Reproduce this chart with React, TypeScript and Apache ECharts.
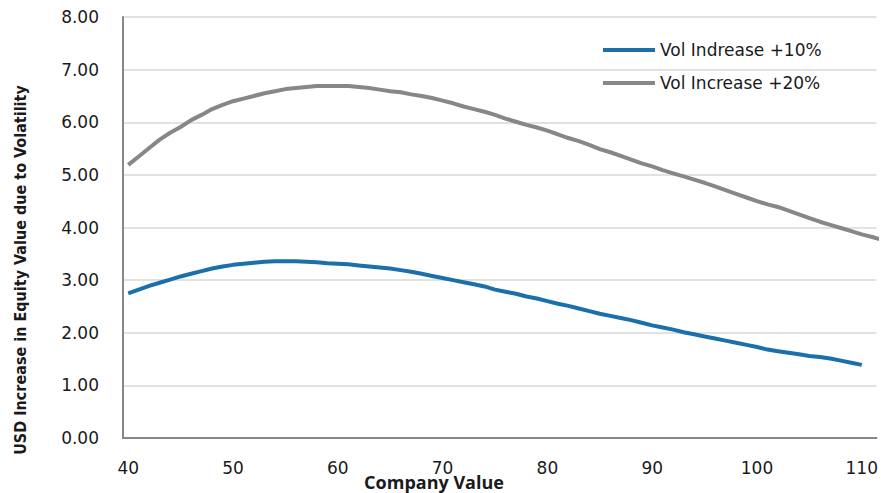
import React, { useEffect, useRef } from "react";
import * as echarts from "echarts";

// Company value (x) for each observation
const companyValues: number[] = [
  40, 41, 42, 43, 44, 45, 46, 47, 48, 49,
  50, 51, 52, 53, 54, 55, 56, 57, 58, 59,
  60, 61, 62, 63, 64, 65, 66, 67, 68, 69,
  70, 71, 72, 73, 74, 75, 76, 77, 78, 79,
  80, 81, 82, 83, 84, 85, 86, 87, 88, 89,
  90, 91, 92, 93, 94, 95, 96, 97, 98, 99,
  100, 101, 102, 103, 104, 105, 106, 107, 108, 109,
  110, 111, 112,
];

// Equity value increase for +10% volatility (ends at 110)
const volPlus10: number[] = [
  2.75, 2.82, 2.89, 2.95, 3.01, 3.07, 3.12, 3.17, 3.22, 3.26,
  3.29, 3.31, 3.33, 3.35, 3.36, 3.36, 3.36, 3.35, 3.34, 3.32,
  3.31, 3.3, 3.28, 3.26, 3.24, 3.22, 3.19, 3.16, 3.12, 3.08,
  3.04, 3.0, 2.96, 2.92, 2.88, 2.82, 2.78, 2.74, 2.69, 2.65,
  2.6, 2.55, 2.51, 2.46, 2.41, 2.36, 2.32, 2.28, 2.24, 2.19,
  2.14, 2.1, 2.06, 2.01, 1.97, 1.93, 1.89, 1.85, 1.81, 1.77,
  1.73, 1.68, 1.65, 1.62, 1.59, 1.56, 1.54, 1.51, 1.47, 1.43,
  1.39,
];

// Equity value increase for +20% volatility
const volPlus20: number[] = [
  5.19, 5.35, 5.51, 5.67, 5.8, 5.91, 6.04, 6.14, 6.25, 6.33,
  6.4, 6.45, 6.5, 6.55, 6.59, 6.63, 6.65, 6.67, 6.69, 6.69,
  6.69, 6.69, 6.67, 6.65, 6.62, 6.59, 6.57, 6.53, 6.5, 6.46,
  6.41, 6.36, 6.3, 6.25, 6.2, 6.14, 6.07, 6.01, 5.95, 5.9,
  5.84, 5.77, 5.7, 5.64, 5.57, 5.49, 5.43, 5.36, 5.29, 5.22,
  5.16, 5.09, 5.03, 4.97, 4.91, 4.85, 4.78, 4.71, 4.64, 4.57,
  4.5, 4.44, 4.39, 4.32, 4.25, 4.18, 4.11, 4.05, 3.99, 3.93,
  3.87, 3.82, 3.76,
];

const xTickLabels: number[] = [40, 50, 60, 70, 80, 90, 100, 110];
const seriesNames: string[] = ["Vol Indrease +10%", "Vol Increase +20%"];

const BLUE = "#1b6fab";
const GREY = "#878787";
const TEXT = "#1a1a1a";
const TICK_FONT = "'DejaVu Sans', Verdana, sans-serif";

const pairs = (xs: number[], ys: number[]) => ys.map((y, i) => [xs[i], y]);

export default function App() {
  const ref = useRef<HTMLDivElement>(null);

  useEffect(() => {
    if (!ref.current) return;
    const chart = echarts.init(ref.current, undefined, { renderer: "svg" });
    chart.setOption({
      animation: false,
      backgroundColor: "#ffffff",
      grid: { left: 123, right: 0, top: 17, bottom: 55, containLabel: false },
      xAxis: {
        type: "value",
        min: 39.5,
        max: 111.4,
        axisLine: { show: true, onZero: false, lineStyle: { color: GREY, width: 2 } },
        axisTick: { show: false },
        splitLine: { show: false },
        axisLabel: {
          customValues: xTickLabels,
          margin: 21,
          color: TEXT,
          fontSize: 17,
          fontFamily: TICK_FONT,
        },
      },
      yAxis: {
        type: "value",
        min: 0,
        max: 8,
        interval: 1,
        axisLine: { show: true, lineStyle: { color: GREY, width: 2 } },
        axisTick: { show: false },
        splitLine: { show: true, lineStyle: { color: "#d9d9d9", width: 1.5 } },
        axisLabel: {
          formatter: (v: number) => v.toFixed(2),
          margin: 24,
          color: TEXT,
          fontSize: 17,
          fontFamily: TICK_FONT,
        },
      },
      legend: {
        orient: "vertical",
        left: 603,
        top: 40,
        padding: [0, 0, 0, 0],
        itemWidth: 52,
        itemHeight: 4,
        itemGap: 13,
        icon: "rect",
        textStyle: { color: TEXT, fontSize: 17, fontFamily: TICK_FONT, lineHeight: 20 },
        data: seriesNames,
      },
      series: [
        {
          name: seriesNames[0],
          type: "line",
          data: pairs(companyValues, volPlus10),
          showSymbol: false,
          smooth: false,
          lineStyle: { color: BLUE, width: 4 },
          itemStyle: { color: BLUE },
          z: 3,
        },
        {
          name: seriesNames[1],
          type: "line",
          data: pairs(companyValues, volPlus20),
          showSymbol: false,
          smooth: false,
          lineStyle: { color: GREY, width: 4 },
          itemStyle: { color: GREY },
          z: 2,
        },
      ],
      graphic: [
        {
          type: "text",
          x: 434,
          y: 482,
          style: {
            text: "Company Value",
            fill: TEXT,
            font: "bold 18px 'Open Sans', 'Liberation Sans', sans-serif",
            textAlign: "center",
            textVerticalAlign: "middle",
          },
        },
        {
          type: "text",
          x: 20,
          y: 270,
          rotation: Math.PI / 2,
          style: {
            text: "USD Increase in Equity Value due to Volatility",
            fill: TEXT,
            font: "bold 16px 'Liberation Sans Narrow', 'DejaVu Sans Condensed', 'Open Sans', sans-serif",
            textAlign: "center",
            textVerticalAlign: "middle",
          },
        },
      ],
    });
    return () => chart.dispose();
  }, []);

  return (
    <div
      ref={ref}
      style={{ position: "absolute", left: 0, top: 0, width: 881, height: 493 }}
    />
  );
}
